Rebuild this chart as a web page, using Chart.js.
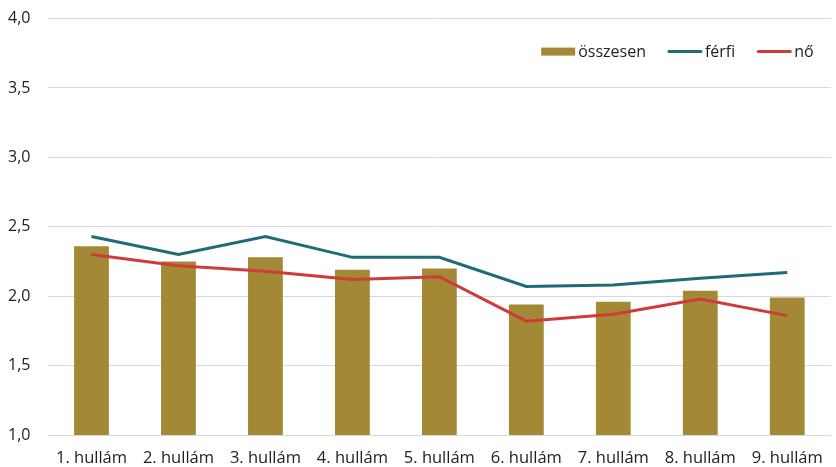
<!DOCTYPE html>
<html>
<head>
<meta charset="utf-8">
<script src="https://cdn.jsdelivr.net/npm/chart.js@4"></script>
<style>
  html, body { margin: 0; padding: 0; background: #fff; }
  #wrap { width: 836px; height: 467px; }
</style>
</head>
<body>
<div id="wrap"><canvas id="c"></canvas></div>
<script>
const labels = ["1. hullám", "2. hullám", "3. hullám", "4. hullám", "5. hullám", "6. hullám", "7. hullám", "8. hullám", "9. hullám"];
const osszesen = [2.36, 2.25, 2.28, 2.19, 2.20, 1.94, 1.96, 2.04, 1.99];
const ferfi = [2.43, 2.30, 2.43, 2.28, 2.28, 2.07, 2.08, 2.13, 2.17];
const no = [2.30, 2.22, 2.18, 2.12, 2.14, 1.82, 1.87, 1.98, 1.86];

const font = "'Open Sans', 'Noto Sans', sans-serif";
Chart.defaults.font.family = font;
Chart.defaults.color = "#262626";

// legend drawn inside the plot, top right, like the original
const innerLegend = {
  id: "innerLegend",
  afterDatasetsDraw(chart) {
    const ctx = chart.ctx;
    const area = chart.chartArea;
    const boxW = 34, gap = 3, spacing = 22;
    ctx.save();
    ctx.font = "16px " + font;
    ctx.textBaseline = "middle";
    const items = chart.data.datasets.map(ds => ({
      text: ds.label,
      bar: ds.type === "bar",
      color: ds.type === "bar" ? ds.backgroundColor : ds.borderColor,
      w: boxW + gap + ctx.measureText(ds.label).width
    }));
    const total = items.reduce((s, it) => s + it.w, 0) + spacing * (items.length - 1);
    let x = area.right - 17 - total;
    const y = area.top + 33;
    for (const it of items) {
      if (it.bar) {
        ctx.fillStyle = it.color;
        ctx.fillRect(x, y - 4, boxW, 8);
      } else {
        ctx.strokeStyle = it.color;
        ctx.lineWidth = 3;
        ctx.lineCap = "round";
        ctx.beginPath();
        ctx.moveTo(x + 1, y);
        ctx.lineTo(x + boxW - 1, y);
        ctx.stroke();
      }
      ctx.fillStyle = "#222";
      ctx.fillText(it.text, x + boxW + gap, y + 1);
      x += it.w + spacing;
    }
    ctx.restore();
  }
};

new Chart(document.getElementById("c"), {
  data: {
    labels,
    datasets: [
      {
        type: "bar",
        label: "összesen",
        data: osszesen,
        backgroundColor: "#a38935",
        categoryPercentage: 1,
        barPercentage: 0.4,
        order: 3
      },
      {
        type: "line",
        label: "férfi",
        data: ferfi,
        borderColor: "#1f6b78",
        backgroundColor: "#1f6b78",
        borderWidth: 3,
        pointRadius: 0,
        tension: 0,
        order: 1
      },
      {
        type: "line",
        label: "nő",
        data: no,
        borderColor: "#cf3a3a",
        backgroundColor: "#cf3a3a",
        borderWidth: 3,
        pointRadius: 0,
        tension: 0,
        order: 2
      }
    ]
  },
  plugins: [innerLegend],
  options: {
    responsive: true,
    maintainAspectRatio: false,
    animation: false,
    layout: { padding: { top: 2, right: 4, left: 8, bottom: 3 } },
    plugins: {
      legend: { display: false },
      tooltip: { enabled: false }
    },
    scales: {
      x: {
        grid: { display: false, drawTicks: false },
        border: { display: true, color: "#d9d9d9", width: 1 },
        ticks: { font: { size: 16.5 }, color: "#222", padding: 13, maxRotation: 0 },
        afterFit: scale => { scale.height = 29; }
      },
      y: {
        min: 1,
        max: 4,
        grid: { color: "#d9d9d9", drawTicks: false },
        border: { display: false },
        ticks: {
          stepSize: 0.5,
          padding: 9,
          crossAlign: "far",
          font: { size: 16 },
          color: "#222",
          callback: v => v.toFixed(1).replace(".", ",")
        },
        afterFit: scale => { scale.width = 40; }
      }
    }
  }
});
</script>
</body>
</html>
